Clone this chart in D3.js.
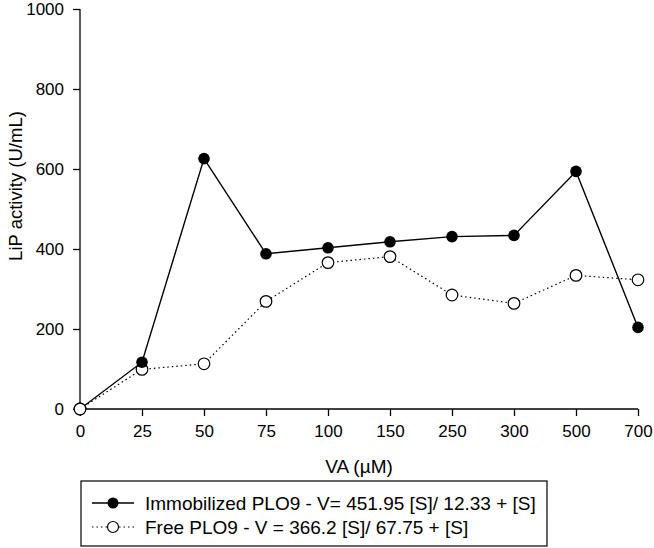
<!DOCTYPE html>
<html><head><meta charset="utf-8">
<script src="https://cdn.jsdelivr.net/npm/d3@7"></script>
<style>body{margin:0;background:#fff}svg{display:block}text{font-family:"Liberation Sans",Arial,sans-serif;fill:#000}</style>
</head><body>
<script>
const categories = ["0","25","50","75","100","150","250","300","500","700"];
const immobilized = [0,117,626,388,403,418,431,434,594,204];
const free = [0,99,113,269,366,381,285,264,334,323];
const yTicks = [0,200,400,600,800,1000];
const seriesNames = ["Immobilized PLO9 - V= 451.95 [S]/ 12.33 + [S]","Free PLO9 - V = 366.2 [S]/ 67.75 + [S]"];

const W=654,H=548;
const svg=d3.select("body").append("svg").attr("width",W).attr("height",H);
const x=d3.scalePoint().domain(categories).range([80,638]);
const y=d3.scaleLinear().domain([0,1000]).range([409,9]);

const xa=svg.append("g").attr("transform","translate(0,409)")
 .call(d3.axisBottom(x).tickSize(7).tickPadding(9).tickSizeOuter(0));
const ya=svg.append("g").attr("transform","translate(80,0)")
 .call(d3.axisLeft(y).tickValues(yTicks).tickFormat(d3.format("d")).tickSize(7).tickPadding(9).tickSizeOuter(0));
[xa,ya].forEach(a=>{a.attr("font-size",17).attr("font-family","Liberation Sans, Arial, sans-serif");
 a.selectAll("text").attr("fill","#000");
 a.selectAll("line,path").attr("stroke","#000").attr("stroke-width",1.3);});
xa.select(".domain").attr("d","M80,0H638");
ya.select(".domain").attr("d","M0,409V9");

svg.append("text").attr("x",359).attr("y",473).attr("text-anchor","middle").attr("font-size",19).text("VA (µM)");
svg.append("text").attr("transform","translate(22,186) rotate(-90)").attr("text-anchor","middle").attr("font-size",18.5).text("LiP activity (U/mL)");

const line=d3.line().x((d,i)=>x(categories[i])).y(d=>y(d));
svg.append("path").datum(free).attr("d",line).attr("fill","none").attr("stroke","#000").attr("stroke-width",1.2).attr("stroke-dasharray","1.5,3");
svg.append("path").datum(immobilized).attr("d",line).attr("fill","none").attr("stroke","#000").attr("stroke-width",1.4);
svg.selectAll(".fp").data(free).enter().append("circle").attr("cx",(d,i)=>x(categories[i])).attr("cy",d=>y(d)).attr("r",5.8).attr("fill","#fff").attr("stroke","#000").attr("stroke-width",1.2);
svg.selectAll(".ip").data(immobilized).enter().append("circle").attr("cx",(d,i)=>x(categories[i])).attr("cy",d=>y(d)).attr("r",5.8).attr("fill","#000");
svg.append("circle").attr("cx",x(categories[0])).attr("cy",y(free[0])).attr("r",5.8).attr("fill","#fff").attr("stroke","#000").attr("stroke-width",1.2);

const lg=svg.append("g");
lg.append("rect").attr("x",81).attr("y",481).attr("width",466).attr("height",65).attr("fill","#fff").attr("stroke","#000").attr("stroke-width",1.2);
lg.append("line").attr("x1",92).attr("x2",134).attr("y1",503).attr("y2",503).attr("stroke","#000").attr("stroke-width",1.4);
lg.append("circle").attr("cx",113).attr("cy",503).attr("r",5.5).attr("fill","#000");
lg.append("line").attr("x1",92).attr("x2",134).attr("y1",527).attr("y2",527).attr("stroke","#000").attr("stroke-width",1.2).attr("stroke-dasharray","1.5,3");
lg.append("circle").attr("cx",113).attr("cy",527).attr("r",5.5).attr("fill","#fff").attr("stroke","#000").attr("stroke-width",1.2);
lg.append("text").attr("x",145).attr("y",510).attr("font-size",19).text(seriesNames[0]);
lg.append("text").attr("x",145).attr("y",534).attr("font-size",19).text(seriesNames[1]);
</script>
</body></html>
